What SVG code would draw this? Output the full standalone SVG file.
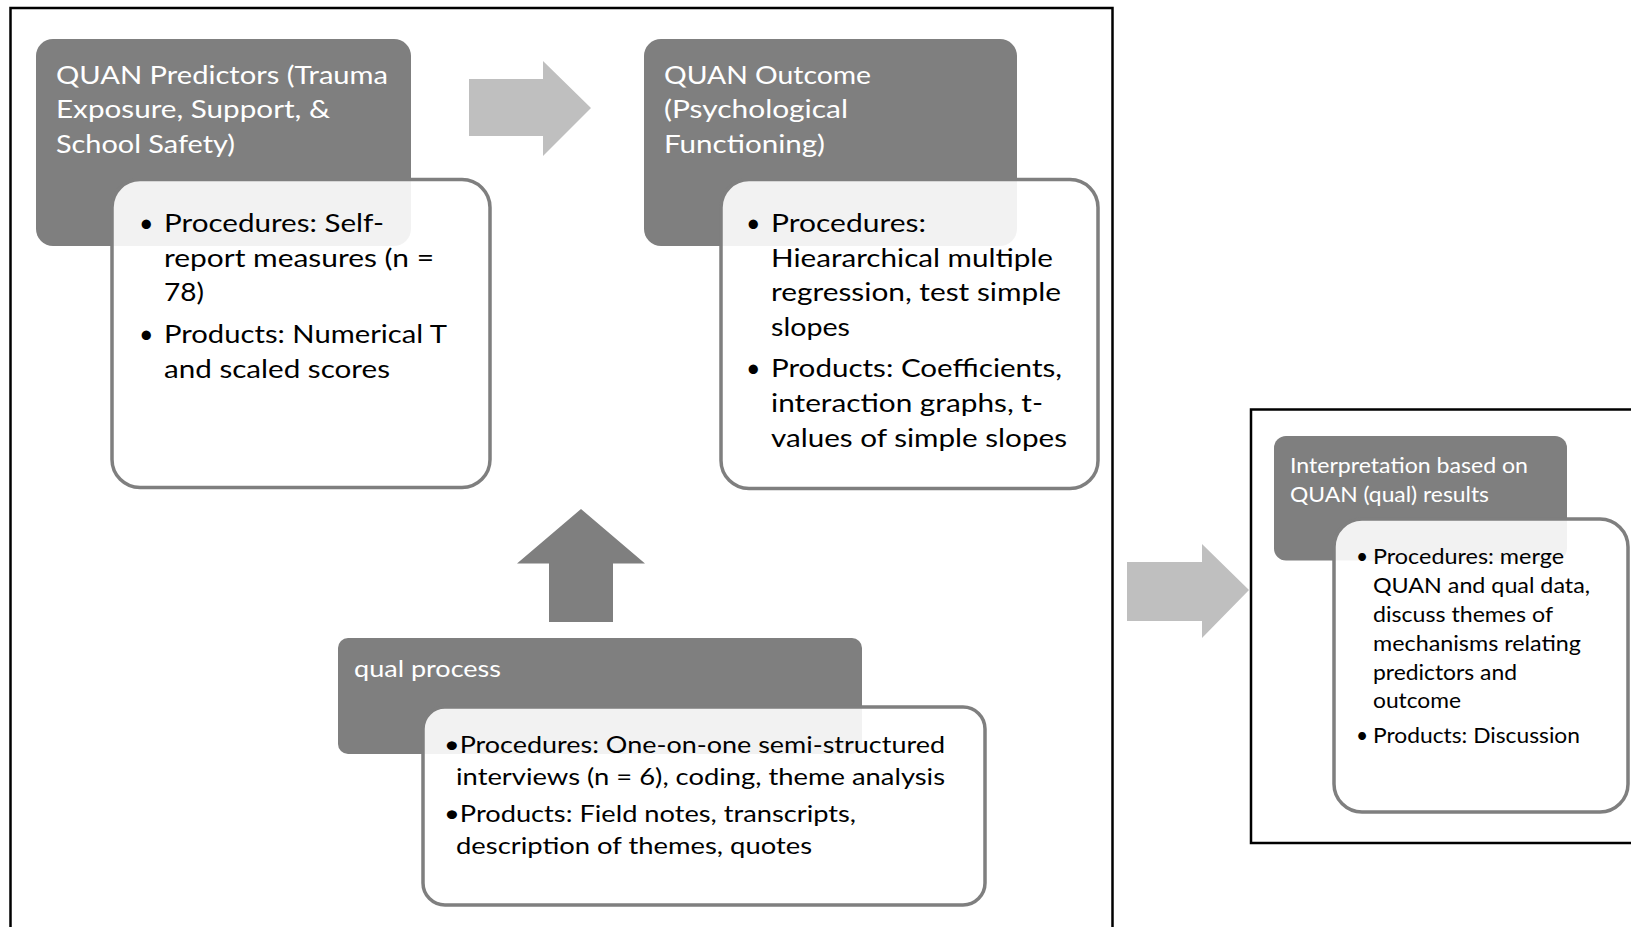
<svg xmlns="http://www.w3.org/2000/svg" width="1631" height="927" viewBox="0 0 1631 927">
<style>
.frame{fill:none;stroke:#000;stroke-width:2.5}
.dark{fill:#7f7f7f}
.card{fill:#fff;fill-opacity:0.9;stroke:#7f7f7f;stroke-width:3.5}
.arrL{fill:#bfbfbf}
.arrD{fill:#7f7f7f}
.t{font-family:Lato,"Open Sans","Liberation Sans",sans-serif}
.w{fill:#fff}
.k{fill:#000}
.big{font-size:25px}
.mid{font-size:23.5px}
.sm{font-size:21px}
</style>
<rect width="1631" height="927" fill="#fff"/>
<g id="frames">
<path class="frame" d="M10.5,930 V8 H1112.5 V930"/>
<path class="frame" d="M1634,409.5 H1251 V843 H1634"/>
</g>
<g id="connectors">
<polygon class="arrL" points="469,79 543,79 543,61 591,108 543,156 543,136 469,136"/>
<polygon class="arrD" points="581,509 645,563.5 613,563.5 613,622 549,622 549,563.5 517,563.5"/>
<polygon class="arrL" points="1127,562 1202,562 1202,544 1249,590 1202,638 1202,621 1127,621"/>
</g>
<g id="node-predictors">
<rect class="dark" x="36" y="39" width="375" height="207" rx="17"/>
<rect class="card" x="112" y="179.5" width="378" height="308" rx="28"/>
<text class="t w big" x="56" y="83.5" textLength="332" lengthAdjust="spacingAndGlyphs">QUAN Predictors (Trauma</text>
<text class="t w big" x="56" y="118" textLength="274" lengthAdjust="spacingAndGlyphs">Exposure, Support, &amp;</text>
<text class="t w big" x="56" y="152.5" textLength="179" lengthAdjust="spacingAndGlyphs">School Safety)</text>
<text class="t k big" x="139" y="232">•</text>
<text class="t k big" x="164" y="232" textLength="220" lengthAdjust="spacingAndGlyphs">Procedures: Self-</text>
<text class="t k big" x="164" y="266.5" textLength="270" lengthAdjust="spacingAndGlyphs">report measures (n =</text>
<text class="t k big" x="164" y="301" textLength="40" lengthAdjust="spacingAndGlyphs">78)</text>
<text class="t k big" x="139" y="343">•</text>
<text class="t k big" x="164" y="343" textLength="283" lengthAdjust="spacingAndGlyphs">Products: Numerical T</text>
<text class="t k big" x="164" y="377.5" textLength="226" lengthAdjust="spacingAndGlyphs">and scaled scores</text>
</g>
<g id="node-outcome">
<rect class="dark" x="644" y="39" width="373" height="207" rx="17"/>
<rect class="card" x="721" y="179.5" width="377" height="309" rx="28"/>
<text class="t w big" x="664" y="83.5" textLength="207" lengthAdjust="spacingAndGlyphs">QUAN Outcome</text>
<text class="t w big" x="664" y="118" textLength="184" lengthAdjust="spacingAndGlyphs">(Psychological</text>
<text class="t w big" x="664" y="152.5" textLength="161" lengthAdjust="spacingAndGlyphs">Functioning)</text>
<text class="t k big" x="746" y="232">•</text>
<text class="t k big" x="771" y="232" textLength="155" lengthAdjust="spacingAndGlyphs">Procedures:</text>
<text class="t k big" x="771" y="266.5" textLength="282" lengthAdjust="spacingAndGlyphs">Hieararchical multiple</text>
<text class="t k big" x="771" y="301" textLength="290" lengthAdjust="spacingAndGlyphs">regression, test simple</text>
<text class="t k big" x="771" y="336" textLength="79" lengthAdjust="spacingAndGlyphs">slopes</text>
<text class="t k big" x="746" y="377">•</text>
<text class="t k big" x="771" y="377" textLength="291" lengthAdjust="spacingAndGlyphs">Products: Coefficients,</text>
<text class="t k big" x="771" y="412" textLength="272" lengthAdjust="spacingAndGlyphs">interaction graphs, t-</text>
<text class="t k big" x="771" y="447" textLength="296" lengthAdjust="spacingAndGlyphs">values of simple slopes</text>
</g>
<g id="node-qual">
<rect class="dark" x="338" y="638" width="524" height="116" rx="10"/>
<rect class="card" x="423" y="707" width="562" height="198" rx="22"/>
<text class="t w mid" x="354" y="676.5" textLength="147" lengthAdjust="spacingAndGlyphs">qual process</text>
<text class="t k mid" x="444" y="752.5" textLength="501" lengthAdjust="spacingAndGlyphs">•Procedures: One-on-one semi-structured</text>
<text class="t k mid" x="456" y="785" textLength="489" lengthAdjust="spacingAndGlyphs">interviews (n = 6), coding, theme analysis</text>
<text class="t k mid" x="444" y="821.5" textLength="412" lengthAdjust="spacingAndGlyphs">•Products: Field notes, transcripts,</text>
<text class="t k mid" x="456" y="854" textLength="356" lengthAdjust="spacingAndGlyphs">description of themes, quotes</text>
</g>
<g id="node-interpretation">
<rect class="dark" x="1274" y="436" width="293" height="124.5" rx="12"/>
<rect class="card" x="1334" y="519" width="294" height="293" rx="28"/>
<text class="t w sm" x="1290" y="473" textLength="238" lengthAdjust="spacingAndGlyphs">Interpretation based on</text>
<text class="t w sm" x="1290" y="501.5" textLength="199" lengthAdjust="spacingAndGlyphs">QUAN (qual) results</text>
<text class="t k sm" x="1356" y="564">•</text>
<text class="t k sm" x="1373" y="564" textLength="191" lengthAdjust="spacingAndGlyphs">Procedures: merge</text>
<text class="t k sm" x="1373" y="593" textLength="217" lengthAdjust="spacingAndGlyphs">QUAN and qual data,</text>
<text class="t k sm" x="1373" y="622" textLength="180" lengthAdjust="spacingAndGlyphs">discuss themes of</text>
<text class="t k sm" x="1373" y="651" textLength="208" lengthAdjust="spacingAndGlyphs">mechanisms relating</text>
<text class="t k sm" x="1373" y="680" textLength="144" lengthAdjust="spacingAndGlyphs">predictors and</text>
<text class="t k sm" x="1373" y="708" textLength="88" lengthAdjust="spacingAndGlyphs">outcome</text>
<text class="t k sm" x="1356" y="743">•</text>
<text class="t k sm" x="1373" y="743" textLength="207" lengthAdjust="spacingAndGlyphs">Products: Discussion</text>
</g>
</svg>
